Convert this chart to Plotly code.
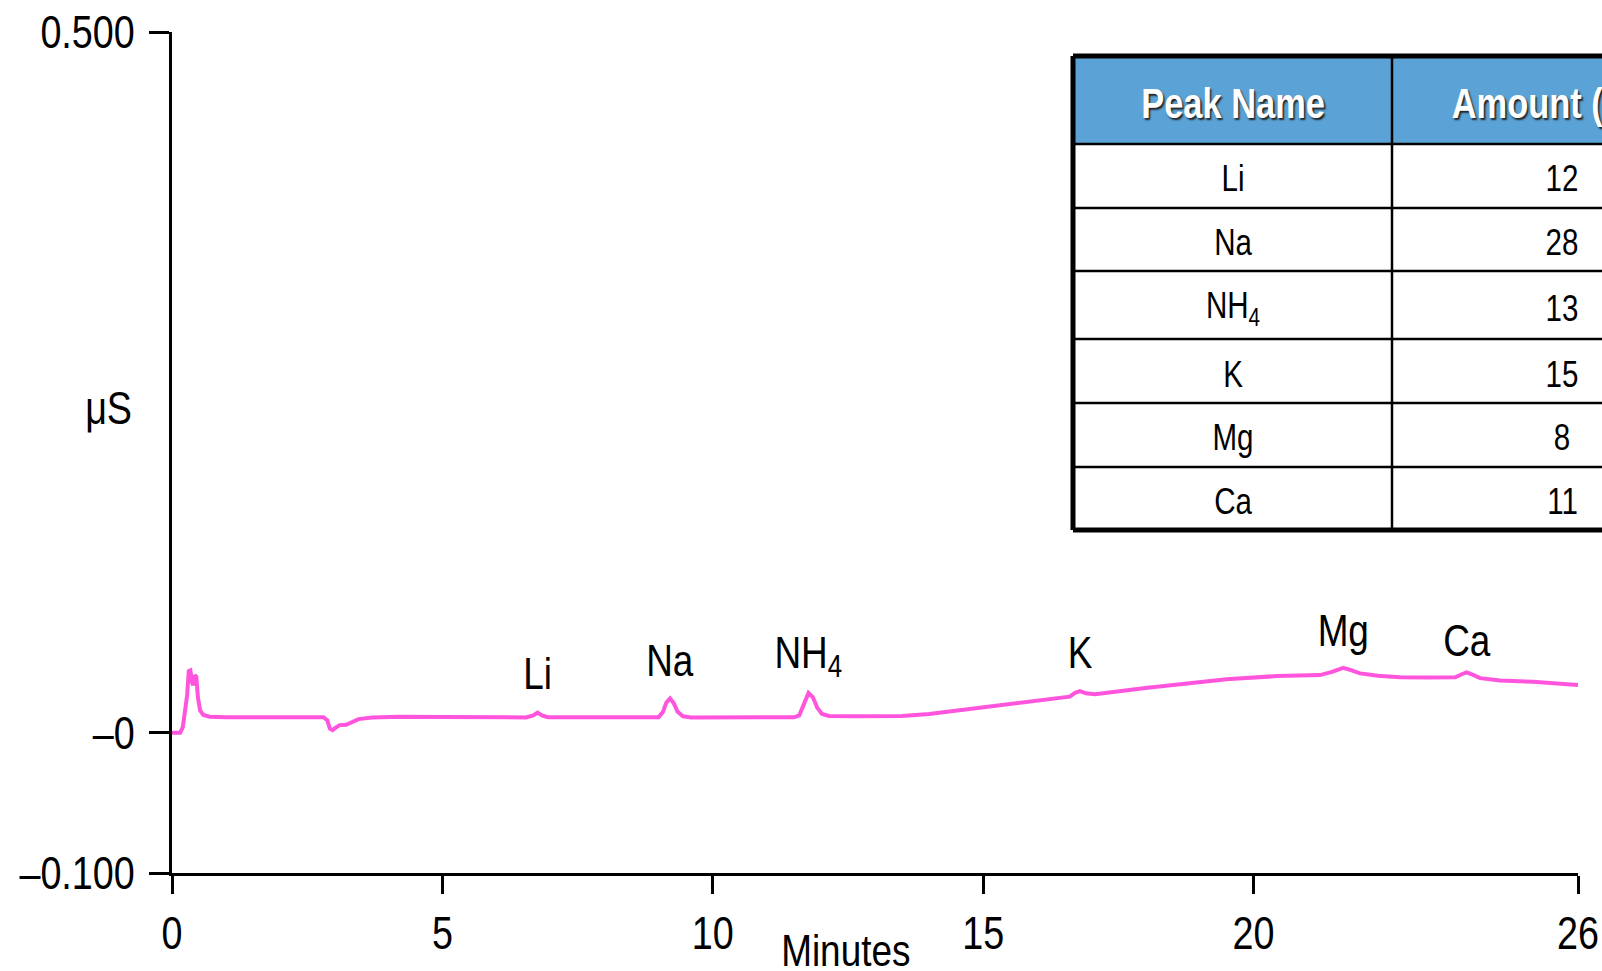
import plotly.graph_objects as go

# ---------------- data ----------------
time_min = [0.00, 0.15, 0.20, 0.25, 0.28, 0.31, 0.34, 0.37, 0.39, 0.42, 0.45, 0.48, 0.52, 0.58, 0.70,
            1.00, 1.60, 2.20, 2.80, 2.87, 2.92, 2.97, 3.02, 3.10, 3.22, 3.32, 3.45, 3.70, 4.20, 5.00,
            6.00, 6.55, 6.68, 6.76, 6.84, 6.95, 7.50, 8.50, 9.00, 9.08, 9.14, 9.21, 9.28, 9.35, 9.45,
            9.60, 10.50, 11.50, 11.60, 11.68, 11.77, 11.85, 11.93, 12.02, 12.15, 12.60, 13.50, 14.00,
            15.00, 16.00, 16.60, 16.70, 16.79, 16.90, 17.07, 18.00, 18.70, 19.50, 20.43, 21.23, 21.45,
            21.66, 21.80, 21.97, 22.30, 22.71, 23.20, 23.73, 23.85, 23.94, 24.05, 24.19, 24.56, 25.17,
            26.00]
signal_uS = [0.0000, 0.0000, 0.0040, 0.0200, 0.0270, 0.0440, 0.0445, 0.0360, 0.0340, 0.0410, 0.0400,
             0.0250, 0.0160, 0.0128, 0.0115,
             0.0112, 0.0115, 0.0112, 0.0112, 0.0090, 0.0030, 0.0020, 0.0035, 0.0055, 0.0058, 0.0075,
             0.0098, 0.0110, 0.0114, 0.0113,
             0.0112, 0.0110, 0.0125, 0.0145, 0.0125, 0.0112, 0.0111, 0.0111, 0.0112, 0.0150, 0.0215,
             0.0245, 0.0210, 0.0150, 0.0118,
             0.0110, 0.0110, 0.0111, 0.0125, 0.0210, 0.0285, 0.0255, 0.0180, 0.0135, 0.0120, 0.0118,
             0.0120, 0.0135,
             0.0185, 0.0230, 0.0258, 0.0285, 0.0298, 0.0282, 0.0276, 0.0320, 0.0352, 0.0382, 0.0405,
             0.0412, 0.0435,
             0.0464, 0.0448, 0.0424, 0.0408, 0.0397, 0.0395, 0.0396, 0.0418, 0.0432, 0.0415, 0.0390,
             0.0373, 0.0364,
             0.0342]

peak_names = ["Li", "Na", "NH<sub>4</sub>", "K", "Mg", "Ca"]
peak_times = [6.76, 9.21, 11.77, 16.79, 21.66, 23.94]
amounts = ["12", "28", "13", "15", "8", "11"]

x_tick_vals = [0, 5, 10, 15, 20, 26]
x_tick_text = ["0", "5", "10", "15", "20", "26"]
y_tick_vals = [-0.1, 0, 0.5]
y_tick_text = ["\u20130.100", "\u20130", "0.500"]

table_headers = ["Peak Name", "Amount (\u00b5g/L)"]

# ---------------- layout helpers ----------------
W, H = 1602, 971
L, R, T, B = 172, 24, 32, 98
PW, PH = W - L - R, H - T - B

def px(x):
    return (x - L) / PW

def py(y):
    return (H - B - y) / PH

FONT = "Liberation Sans Narrow, Arial Narrow, Liberation Sans, Arial, sans-serif"
PINK = "#ff55dd"

fig = go.Figure()
fig.add_trace(go.Scatter(x=time_min, y=signal_uS, mode="lines",
                         line=dict(color=PINK, width=4), hoverinfo="skip",
                         showlegend=False))

annotations = []
label_px = [(538, 673), (677, 660), (812, 655), (1081, 652), (1352, 630), (1473, 640)]
for name, t, (lx, ly) in zip(peak_names, peak_times, label_px):
    annotations.append(dict(x=t, xref="x", y=py(ly), yref="paper", text=name,
                            showarrow=False, xanchor="center", yanchor="middle",
                            font=dict(family=FONT, size=45, color="black")))

annotations.append(dict(x=px(108), y=py(408), xref="paper", yref="paper", text="\u03bcS",
                        showarrow=False, xanchor="center", yanchor="middle",
                        font=dict(family=FONT, size=46, color="black")))
annotations.append(dict(x=px(846), y=py(950), xref="paper", yref="paper", text="Minutes",
                        showarrow=False, xanchor="center", yanchor="middle",
                        font=dict(family=FONT, size=45, color="black")))

# ---------------- table ----------------
TL, TR, TT, TB = 1073, 1720, 56, 530
col_div = 1392
row_lines = [144, 208, 271, 339, 403, 467]
row_edges = [TT] + row_lines + [TB]
TXT_DY = 3
shapes = []
shapes.append(dict(type="rect", xref="paper", yref="paper", x0=px(TL), x1=px(TR),
                   y0=py(TT), y1=py(row_lines[0]), fillcolor="#5ba3d6", line=dict(width=0),
                   layer="above"))
for yl in row_lines:
    shapes.append(dict(type="line", xref="paper", yref="paper", x0=px(TL), x1=px(TR),
                       y0=py(yl), y1=py(yl), line=dict(color="black", width=2.5)))
shapes.append(dict(type="line", xref="paper", yref="paper", x0=px(col_div), x1=px(col_div),
                   y0=py(TT), y1=py(TB), line=dict(color="black", width=2.5)))
for (x0, y0, x1, y1) in [(TL, TT, TR, TT), (TL, TB, TR, TB), (TL, TT, TL, TB)]:
    shapes.append(dict(type="line", xref="paper", yref="paper", x0=px(x0), x1=px(x1),
                       y0=py(y0), y1=py(y1), line=dict(color="black", width=5)))

hdr_y = (row_edges[0] + row_edges[1]) / 2 + TXT_DY
annotations.append(dict(x=px(1233), y=py(hdr_y), xref="paper", yref="paper",
                        text="<b>" + table_headers[0] + "</b>", showarrow=False,
                        xanchor="center", yanchor="middle",
                        font=dict(family=FONT, size=42, color="white",
                                  shadow="2px 2px 2px #222")))
annotations.append(dict(x=px(1424), y=py(hdr_y), xref="paper", yref="paper",
                        text="<b>" + table_headers[1] + "</b>", showarrow=False,
                        xanchor="left", yanchor="middle",
                        font=dict(family=FONT, size=42, color="white",
                                  shadow="2px 2px 2px #222")))
for i, (name, amt) in enumerate(zip(peak_names, amounts)):
    cy = (row_edges[i + 1] + row_edges[i + 2]) / 2 + TXT_DY
    annotations.append(dict(x=px(1233), y=py(cy), xref="paper", yref="paper", text=name,
                            showarrow=False, xanchor="center", yanchor="middle",
                            font=dict(family=FONT, size=36, color="black")))
    annotations.append(dict(x=px(1562), y=py(cy), xref="paper", yref="paper", text=amt,
                            showarrow=False, xanchor="center", yanchor="middle",
                            font=dict(family=FONT, size=36, color="black")))

fig.update_layout(
    width=W, height=H,
    margin=dict(l=L, r=R, t=T, b=B, pad=0, autoexpand=False),
    paper_bgcolor="white", plot_bgcolor="white",
    font=dict(family=FONT, size=45, color="black"),
    showlegend=False,
    annotations=annotations,
    shapes=shapes,
    xaxis=dict(range=[0, 26], tickmode="array", tickvals=x_tick_vals, ticktext=x_tick_text,
               showline=True, linecolor="black", linewidth=3, ticks="outside", ticklen=18,
               tickwidth=3, tickcolor="black", showgrid=False, zeroline=False,
               automargin=False, ticklabeloverflow="allow",
               ticklabelstandoff=0, tickfont=dict(family=FONT, size=46)),
    yaxis=dict(range=[-0.1, 0.5], tickmode="array", tickvals=y_tick_vals, ticktext=y_tick_text,
               showline=True, linecolor="black", linewidth=3, ticks="outside", ticklen=20,
               tickwidth=3, tickcolor="black", showgrid=False, zeroline=False,
               automargin=False, ticklabeloverflow="allow",
               ticklabelstandoff=5, tickfont=dict(family=FONT, size=46)),
)

# The reference uses a narrow (condensed) face; no condensed font is installed,
# so condense the rendered text horizontally with SVG textLength.
condense_js = """
var gd = document.getElementById('{plot_id}');
function condense() {
  gd.querySelectorAll('text').forEach(function (t) {
    if (t.getAttribute('data-condensed')) return;
    var w = t.getComputedTextLength();
    if (w > 0) {
      t.setAttribute('textLength', (w * 0.82).toFixed(2));
      t.setAttribute('lengthAdjust', 'spacingAndGlyphs');
      t.setAttribute('data-condensed', '1');
    }
  });
}
condense();
"""

fig.write_html("out.html", post_script=condense_js)
